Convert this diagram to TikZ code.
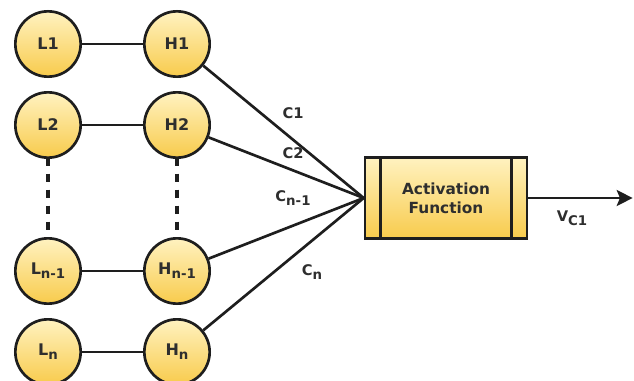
\documentclass[tikz,border=0pt]{standalone}
\usepackage{fontspec}
\setmainfont{DejaVu Sans}
\usetikzlibrary{arrows.meta,positioning,calc,shapes}
\definecolor{linecol}{HTML}{1E1E1E}
\definecolor{textcol}{HTML}{2E2E2E}
\definecolor{fillhi}{HTML}{FFF2C0}
\definecolor{filllo}{HTML}{F8CB4C}
\newcommand{\lowsub}[1]{\raisebox{-0.45ex}{\fontsize{10}{10}\selectfont #1}}
\tikzset{
    neuron/.style = {draw=linecol, circle, line width=2pt,
        minimum size=49pt, inner sep=0pt,
        top color=fillhi, bottom color=filllo,
        text=textcol, font=\bfseries\fontsize{12}{14}\selectfont},
    actbox/.style = {draw=linecol, rectangle, line width=2pt,
        minimum width=121.5pt, minimum height=60.75pt, align=center,
        top color=fillhi, bottom color=filllo,
        text=textcol, font=\bfseries\fontsize{11.5}{14.5}\selectfont},
    link/.style = {draw=linecol, line width=2pt},
    skip/.style = {draw=linecol, line width=2.5pt, dash pattern=on 6.5pt off 5.5pt, dash phase=1pt},
    wlabel/.style = {text=textcol, inner sep=1pt, font=\bfseries\fontsize{11}{13}\selectfont}
}

\begin{document}
\begin{tikzpicture}[>={Stealth[length=12pt,width=12pt,inset=2.5pt]}]
        \useasboundingbox (0,0) rectangle (475.5pt,-285.75pt);
        % left column
        \node [neuron] (L1) at (36pt,-33pt) {L1};
        \node [neuron, below of=L1, node distance=60.75pt] (L2) {L2};
        \node [neuron, below of=L2, node distance=109.5pt] (Lm) {L\lowsub{n-1}};
        \node [neuron, below of=Lm, node distance=60.75pt] (Ln) {L\lowsub{n}};
        % hidden column
        \node [neuron, right of=L1, node distance=96.75pt] (H1) {H1};
        \node [neuron, right of=L2, node distance=96.75pt] (H2) {H2};
        \node [neuron, right of=Lm, node distance=96.75pt] (Hm) {H\lowsub{n-1}};
        \node [neuron, right of=Ln, node distance=96.75pt] (Hn) {H\lowsub{n}};
        \draw [link] (L1) -- (H1);
        \draw [link] (L2) -- (H2);
        \draw [link] (Lm) -- (Hm);
        \draw [link] (Ln) -- (Hn);
        \draw [skip] (L2) -- (Lm);
        \draw [skip] (H2) -- (Hm);
        % activation
        \node [actbox] (act) at (334.5pt,-148.5pt) {Activation\\Function};
        \draw [link] ($(act.north west)+(12.75pt,0)$) -- ($(act.south west)+(12.75pt,0)$);
        \draw [link] ($(act.north east)-(12.75pt,0)$) -- ($(act.south east)-(12.75pt,0)$);
        \foreach \h in {H1,H2,Hm,Hn}
            \draw [link] (\h) -- (act.west);
        \node [wlabel] (c1) at (219.75pt,-84.75pt) {C1};
        \node [wlabel] (c2) at (219.75pt,-114.75pt) {C2};
        \node [wlabel] (cm) at (219.75pt,-148.5pt) {C\lowsub{n-1}};
        \node [wlabel] (cn) at (234pt,-204pt) {C\lowsub{n}};
        % output
        \coordinate (out) at (474.5pt,-148.5pt);
        \draw [link,->] (act) -- (out);
        \node [wlabel] (vc) at (429pt,-163.5pt) {V\lowsub{C1}};
    \end{tikzpicture}
\end{document}
